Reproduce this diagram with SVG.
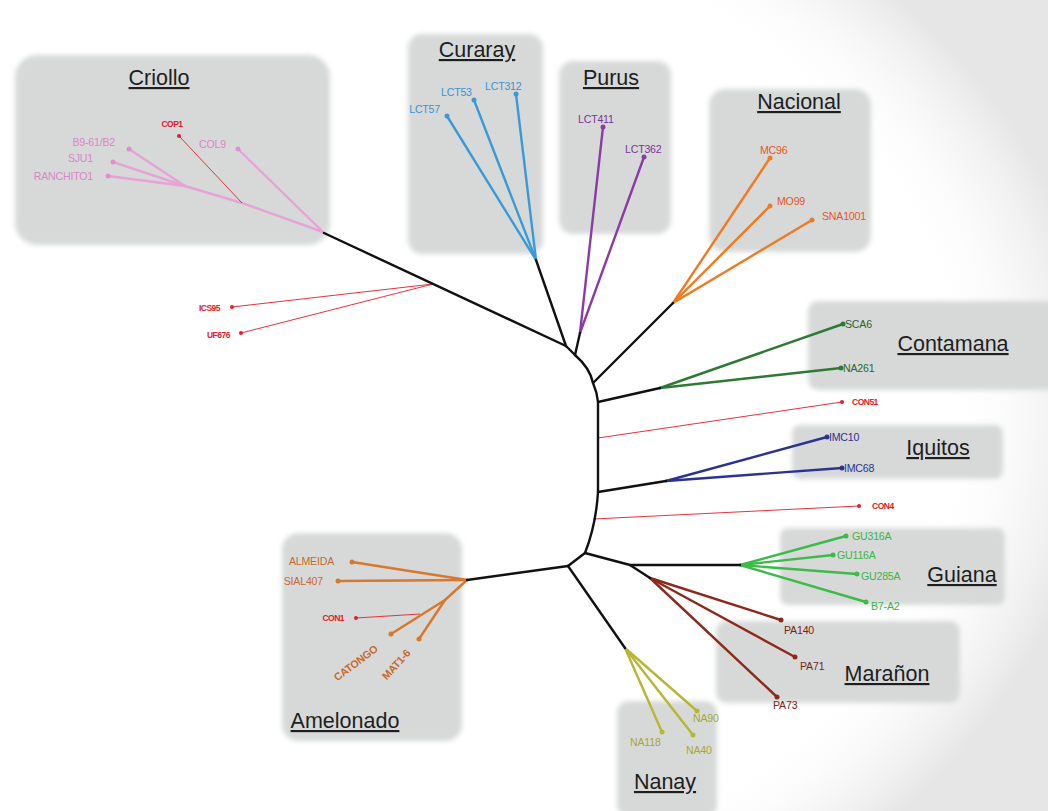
<svg xmlns="http://www.w3.org/2000/svg" width="1048" height="811" viewBox="0 0 1048 811">
  <defs>
    <filter id="soft" x="-10%" y="-10%" width="120%" height="120%">
      <feGaussianBlur stdDeviation="2.5"/>
    </filter>
    <radialGradient id="edge" cx="0.3" cy="0.5" r="0.75">
      <stop offset="0.8" stop-color="#ffffff" stop-opacity="0"/>
      <stop offset="1" stop-color="#e6e6e6" stop-opacity="1"/>
    </radialGradient>
    <style>
      .panel { fill: #d7d9d9; filter: url(#soft); }
      .title { font-family: "Liberation Sans", Arial, sans-serif; font-size: 21.5px; fill: #1e1e1e; text-decoration: underline; text-anchor: middle; }
      .lbl { font-family: "Liberation Sans", Arial, sans-serif; font-size: 10.6px; letter-spacing: -0.2px; }
      .rl { font-family: "Liberation Sans", Arial, sans-serif; font-size: 8.5px; font-weight: bold; fill: #e0202a; letter-spacing: -0.5px; }
      .br { fill: none; stroke-width: 2.4; stroke-linecap: round; stroke-linejoin: round; }
      .thin { fill: none; stroke: #e8323c; stroke-width: 1; }
      .spine { fill: none; stroke: #111; stroke-width: 2.4; stroke-linecap: round; stroke-linejoin: round; }
    </style>
  </defs>

  <rect width="1048" height="811" fill="#ffffff"/>
  <rect width="1048" height="811" fill="url(#edge)"/>

  <!-- Criollo -->
  <g id="criollo">
    <rect class="panel" x="15" y="55" width="315" height="190" rx="22"/>
    <text class="title" x="159" y="85">Criollo</text>
    <g class="br" stroke="#e6a3d6">
      <polyline points="323,232 238,149"/>
      <polyline points="323,232 242,203 185,186 108,176"/>
      <polyline points="185,186 113,162"/>
      <polyline points="185,186 129,149"/>
    </g>
    <line class="thin" x1="242" y1="203" x2="179" y2="136"/>
    <g fill="#de8fcf">
      <circle cx="238" cy="149" r="2.5"/><circle cx="108" cy="176" r="2.5"/>
      <circle cx="113" cy="162" r="2.5"/><circle cx="129" cy="149" r="2.5"/>
    </g>
    <circle cx="179" cy="136" r="2" fill="#e0202a"/>
    <g class="lbl" fill="#d986c8">
      <text x="115" y="146" text-anchor="end">B9-61/B2</text>
      <text x="93" y="162" text-anchor="end">SJU1</text>
      <text x="93" y="180" text-anchor="end">RANCHITO1</text>
      <text x="199" y="148">COL9</text>
    </g>
    <text class="rl" x="172" y="127" text-anchor="middle">COP1</text>
  </g>

  <!-- Curaray -->
  <g id="curaray">
    <rect class="panel" x="408" y="34" width="135" height="220" rx="14"/>
    <text class="title" x="477" y="57">Curaray</text>
    <g class="br" stroke="#3a9ad8">
      <polyline points="536,260 447,116"/>
      <polyline points="536,260 474,100"/>
      <polyline points="536,260 516,94"/>
    </g>
    <g fill="#3a9ad8">
      <circle cx="447" cy="116" r="2.5"/><circle cx="474" cy="100" r="2.5"/><circle cx="516" cy="94" r="2.5"/>
    </g>
    <g class="lbl" fill="#3a92d2">
      <text x="440" y="113" text-anchor="end">LCT57</text>
      <text x="441" y="96">LCT53</text>
      <text x="485" y="90">LCT312</text>
    </g>
  </g>

  <!-- Purus -->
  <g id="purus">
    <rect class="panel" x="559" y="61" width="112" height="173" rx="14"/>
    <text class="title" x="611" y="85">Purus</text>
    <g class="br" stroke="#8b3ba8">
      <polyline points="580,333 603,127"/>
      <polyline points="580,333 644,157"/>
    </g>
    <g fill="#8b3ba8">
      <circle cx="603" cy="127" r="2.5"/><circle cx="644" cy="157" r="2.5"/>
    </g>
    <g class="lbl" fill="#7a3399">
      <text x="578" y="123">LCT411</text>
      <text x="625" y="153">LCT362</text>
    </g>
  </g>

  <!-- Nacional -->
  <g id="nacional">
    <rect class="panel" x="709" y="89" width="162" height="163" rx="16"/>
    <text class="title" x="799" y="109">Nacional</text>
    <g class="br" stroke="#f07a22">
      <polyline points="673,303 770,158"/>
      <polyline points="673,303 770,206"/>
      <polyline points="673,303 812,220"/>
    </g>
    <g fill="#f07a22">
      <circle cx="770" cy="158" r="2.5"/><circle cx="770" cy="206" r="2.5"/><circle cx="812" cy="220" r="2.5"/>
    </g>
    <g class="lbl" fill="#e9551f">
      <text x="760" y="154">MC96</text>
      <text x="777" y="205">MO99</text>
      <text x="822" y="220">SNA1001</text>
    </g>
  </g>

  <!-- ungrouped accessions on the left -->
  <g id="ics95-uf676">
    <line class="thin" x1="433" y1="284" x2="232" y2="307"/>
    <line class="thin" x1="433" y1="284" x2="241" y2="333"/>
    <circle cx="232" cy="307" r="2" fill="#e0202a"/>
    <circle cx="241" cy="333" r="2" fill="#e0202a"/>
    <text class="rl" x="220" y="311" text-anchor="end">ICS95</text>
    <text class="rl" x="230" y="338" text-anchor="end">UF676</text>
  </g>

  <!-- Contamana -->
  <g id="contamana">
    <rect class="panel" x="808" y="301" width="250" height="89" rx="10"/>
    <text class="title" x="953" y="351">Contamana</text>
    <g class="br" stroke="#2e7a35">
      <polyline points="660,388 843,324"/>
      <polyline points="660,388 841,368"/>
    </g>
    <g fill="#2e7a35">
      <circle cx="843" cy="324" r="2.5"/><circle cx="841" cy="368" r="2.5"/>
    </g>
    <g class="lbl" fill="#2a6530">
      <text x="845" y="328">SCA6</text>
      <text x="843" y="372">NA261</text>
    </g>
  </g>

  <g id="con51">
    <line class="thin" x1="598" y1="438" x2="842" y2="402"/>
    <circle cx="842" cy="402" r="2" fill="#e0202a"/>
    <text class="rl" x="852" y="405">CON51</text>
  </g>

  <!-- Iquitos -->
  <g id="iquitos">
    <rect class="panel" x="792" y="425" width="211" height="54" rx="8"/>
    <text class="title" x="938" y="455">Iquitos</text>
    <g class="br" stroke="#2b3392">
      <polyline points="666,481 827,437"/>
      <polyline points="666,481 842,468"/>
    </g>
    <g fill="#2b3392">
      <circle cx="827" cy="437" r="2.5"/><circle cx="842" cy="468" r="2.5"/>
    </g>
    <g class="lbl" fill="#2b3392">
      <text x="829" y="441">IMC10</text>
      <text x="844" y="472">IMC68</text>
    </g>
  </g>

  <g id="con4">
    <line class="thin" x1="593" y1="519" x2="859" y2="506"/>
    <circle cx="859" cy="506" r="2" fill="#e0202a"/>
    <text class="rl" x="872" y="509">CON4</text>
  </g>

  <!-- Guiana -->
  <g id="guiana">
    <rect class="panel" x="780" y="528" width="225" height="77" rx="8"/>
    <text class="title" x="962" y="582">Guiana</text>
    <g class="br" stroke="#3dbb48">
      <polyline points="740,565 846,536"/>
      <polyline points="740,565 833,555"/>
      <polyline points="740,565 857,574"/>
      <polyline points="740,565 866,602"/>
    </g>
    <g fill="#3dbb48">
      <circle cx="846" cy="536" r="2.5"/><circle cx="833" cy="555" r="2.5"/>
      <circle cx="857" cy="574" r="2.5"/><circle cx="866" cy="602" r="2.5"/>
    </g>
    <g class="lbl" fill="#3cb547">
      <text x="852" y="540">GU316A</text>
      <text x="837" y="559">GU116A</text>
      <text x="861" y="580">GU285A</text>
      <text x="871" y="610">B7-A2</text>
    </g>
  </g>

  <!-- Marañon -->
  <g id="maranon">
    <rect class="panel" x="716" y="621" width="244" height="82" rx="10"/>
    <text class="title" x="887" y="681">Marañon</text>
    <g class="br" stroke="#8b2a1a">
      <polyline points="650,578 781,620"/>
      <polyline points="650,578 795,657"/>
      <polyline points="650,578 777,697"/>
    </g>
    <g fill="#8b2a1a">
      <circle cx="781" cy="620" r="2.5"/><circle cx="795" cy="657" r="2.5"/><circle cx="777" cy="697" r="2.5"/>
    </g>
    <g class="lbl" fill="#7c2414">
      <text x="784" y="634">PA140</text>
      <text x="800" y="670">PA71</text>
      <text x="773" y="709">PA73</text>
    </g>
  </g>

  <!-- Nanay -->
  <g id="nanay">
    <rect class="panel" x="617" y="701" width="100" height="116" rx="12"/>
    <text class="title" x="665" y="789">Nanay</text>
    <g class="br" stroke="#b5b735">
      <polyline points="625,648 697,711"/>
      <polyline points="625,648 693,735"/>
      <polyline points="625,648 662,732"/>
    </g>
    <g fill="#b5b735">
      <circle cx="697" cy="711" r="2.5"/><circle cx="693" cy="735" r="2.5"/><circle cx="662" cy="732" r="2.5"/>
    </g>
    <g class="lbl" fill="#a8a82e">
      <text x="693" y="722">NA90</text>
      <text x="686" y="754">NA40</text>
      <text x="630" y="746">NA118</text>
    </g>
  </g>

  <!-- Amelonado -->
  <g id="amelonado">
    <rect class="panel" x="282" y="533" width="180" height="208" rx="16"/>
    <text class="title" x="345" y="728">Amelonado</text>
    <g class="br" stroke="#d9772a">
      <polyline points="467,580 352,562"/>
      <polyline points="467,580 338,581"/>
      <polyline points="467,580 445,600 391,634"/>
      <polyline points="445,600 419,639"/>
    </g>
    <line class="thin" x1="420" y1="614" x2="356" y2="618"/>
    <g fill="#d9772a">
      <circle cx="352" cy="562" r="2.5"/><circle cx="338" cy="581" r="2.5"/>
      <circle cx="391" cy="634" r="2.5"/><circle cx="419" cy="639" r="2.5"/>
    </g>
    <circle cx="356" cy="618" r="2" fill="#e0202a"/>
    <g class="lbl" fill="#c8692b">
      <text x="334" y="565" text-anchor="end">ALMEIDA</text>
      <text x="323" y="585" text-anchor="end">SIAL407</text>
      <text x="358" y="666" text-anchor="middle" font-weight="bold" transform="rotate(-37 358 666)">CATONGO</text>
      <text x="399" y="667" text-anchor="middle" font-weight="bold" transform="rotate(-48 399 667)">MAT1-6</text>
    </g>
    <text class="rl" x="344" y="621" text-anchor="end">CON1</text>
  </g>

  <!-- internal branches joining the groups -->
  <g id="connectors">
    <polyline class="spine" points="324,233 566,346 575,355"/>
    <polyline class="spine" points="536,260 566,346"/>
    <polyline class="spine" points="575,355 580,333"/>
    <path class="spine" d="M575,355 Q590,368 593,383 Q597,392 598,402 L598,492 Q596,525 585,553 L568,566"/>
    <polyline class="spine" points="593,383 673,303"/>
    <polyline class="spine" points="598,402 660,388"/>
    <polyline class="spine" points="598,492 666,481"/>
    <polyline class="spine" points="585,553 630,565 740,565"/>
    <polyline class="spine" points="630,565 650,578"/>
    <polyline class="spine" points="568,566 467,580"/>
    <polyline class="spine" points="568,566 625,648"/>
  </g>
</svg>
